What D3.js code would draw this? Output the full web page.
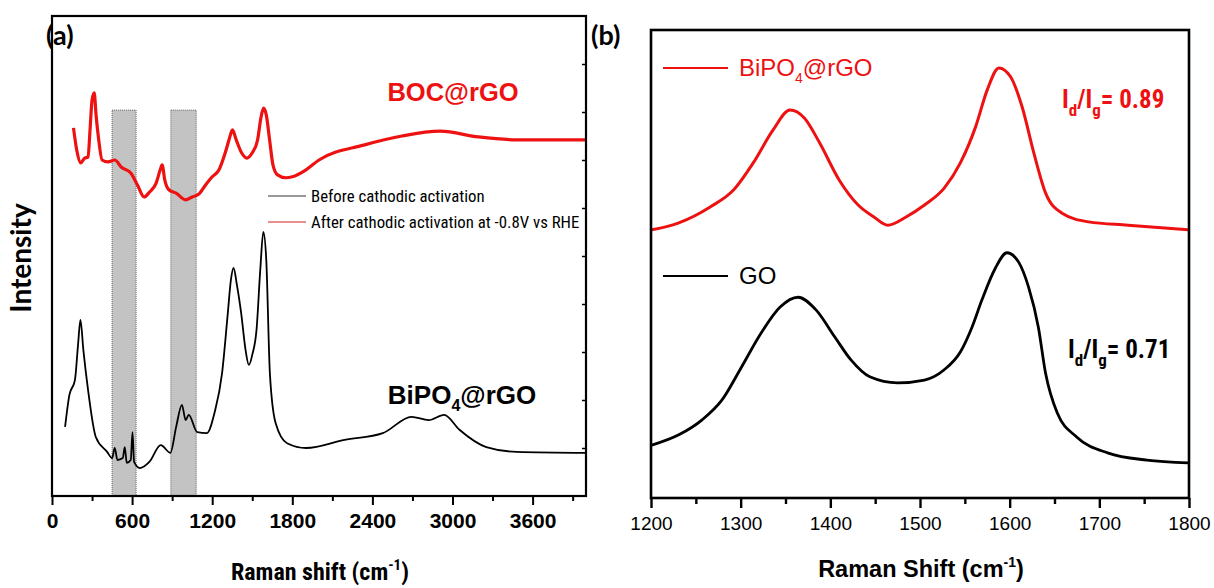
<!DOCTYPE html>
<html lang="en">
<head>
  <meta charset="UTF-8">
  <title>Raman spectra</title>
  <script src="https://d3js.org/d3.v7.min.js"></script>
  <style>
    body { margin: 0; background: #fff; }
    .narrow { font-family: "Liberation Sans Narrow", "Arial Narrow", "Roboto Condensed", "Liberation Sans", Arial, sans-serif; }
    .arial { font-family: "Liberation Sans", Arial, sans-serif; }
    .calib { font-family: "Lato", "Open Sans", "DejaVu Sans", sans-serif; }
  </style>
</head>
<body>
  <svg width="1214" height="588"></svg>
  <script>
    // ---- panel (a) data: Raman shift (cm-1) vs intensity (a.u.)
    const bocShift = [161, 185, 215, 245, 270, 285, 300, 316, 330, 350, 375, 420, 470, 520, 590, 640, 690, 730,
      780, 810, 825, 845, 875, 930, 1000, 1050, 1100, 1150, 1200, 1250, 1300, 1330, 1352, 1380, 1420, 1460,
      1500, 1540, 1565, 1585, 1605, 1630, 1655, 1690, 1750, 1800, 1900, 2000, 2335, 2621, 2908, 3195, 3482, 3998];
    const bocInt = [76.7, 72.1, 69.4, 70.4, 70.6, 76.3, 82.5, 84.0, 79.4, 74.2, 70.0, 69.6, 70.0, 68.5, 67.3, 64.8, 62.3, 63.3,
      65.2, 67.9, 69.0, 65.8, 63.8, 63.1, 61.7, 62.3, 62.9, 64.8, 66.5, 67.9, 71.7, 74.6, 76.3, 74.2, 71.5, 70.4,
      71.5, 74.2, 78.8, 80.8, 79.4, 74.2, 69.0, 66.9, 66.3, 66.5, 67.9, 70.0, 73.1, 75.0, 76.0, 74.8, 74.2, 74.2];

    const bipoShift = [98, 130, 172, 195, 213, 235, 270, 328, 413, 450, 470, 490, 530, 545, 560, 590, 603, 615, 658,
      729, 815, 887, 930, 973, 1001, 1024, 1088, 1160, 1217, 1274, 1317, 1340, 1360, 1385, 1417, 1450, 1475,
      1500, 1532, 1560, 1583, 1605, 1632, 1675, 1761, 1904, 2192, 2478, 2693, 2822, 2937, 3052, 3253, 3482, 3998];
    const bipoInt = [14.4, 21.0, 24.2, 31.5, 36.7, 30.4, 22.1, 12.3, 9.2, 7.9, 10.0, 7.5, 7.9, 10.2, 6.9, 7.5, 13.3, 7.1, 5.8,
      7.1, 10.6, 9.0, 14.4, 19.0, 15.8, 16.9, 13.3, 13.1, 17.3, 25.6, 38.1, 45.0, 47.5, 44.0, 38.1, 30.4, 27.3,
      29.4, 34.6, 47.1, 55.0, 49.2, 25.6, 15.2, 11.0, 10.0, 11.7, 13.1, 16.5, 15.8, 16.9, 13.8, 10.2, 9.2, 9.0];

    const bandRanges = [[450, 630], [890, 1080]];
    const bandTop = 80.4;
    const ticksA = [0, 600, 1200, 1800, 2400, 3000, 3600];
    const minorA = [300, 900, 1500, 2100, 2700, 3300, 3900];

    // ---- panel (b) data
    const rgoShift = [1201, 1231, 1266, 1292, 1314, 1336, 1355, 1371, 1388, 1410, 1431, 1449, 1464, 1484, 1505,
      1527, 1545, 1562, 1575, 1588, 1601, 1614, 1627, 1640, 1658, 1688, 1732, 1799];
    const rgoInt = [57.3, 58.8, 62.2, 65.8, 71.6, 78.6, 82.9, 81.2, 75.9, 67.9, 62.6, 60.0, 58.3, 60.0, 62.6,
      66.2, 71.6, 79.3, 87.2, 91.9, 90.0, 83.5, 73.7, 65.2, 60.9, 59.0, 58.3, 57.3];

    const goShift = [1201, 1231, 1257, 1279, 1301, 1323, 1344, 1364, 1384, 1405, 1423, 1444, 1475, 1505, 1527,
      1545, 1558, 1569, 1584, 1597, 1610, 1621, 1632, 1640, 1653, 1675, 1710, 1753, 1799];
    const goInt = [11.3, 13.5, 16.7, 20.9, 28.0, 35.3, 40.8, 42.9, 40.2, 34.4, 29.5, 25.9, 24.6, 25.2, 27.4,
      31.2, 36.5, 42.3, 49.1, 52.4, 50.4, 45.1, 36.5, 26.7, 18.2, 13.0, 9.6, 8.1, 7.5];

    const ticksB = [1200, 1300, 1400, 1500, 1600, 1700, 1800];
    const minorB = [1250, 1350, 1450, 1550, 1650, 1750];

    const RED = "#ee1111";
    const svg = d3.select("svg");
    svg.append("rect").attr("width", 1214).attr("height", 588).attr("fill", "#fff");

    const zip = (xs, ys) => xs.map((x, i) => [x, ys[i]]);

    // ================= panel (a)
    const ax = d3.scaleLinear().domain([0, 4000]).range([52, 586]);
    const ay = d3.scaleLinear().domain([0, 100]).range([496, 16]);
    const ga = svg.append("g");

    // shaded bands
    ga.selectAll("rect.band").data(bandRanges).enter().append("rect")
      .attr("class", "band")
      .attr("x", d => ax(d[0])).attr("width", d => ax(d[1]) - ax(d[0]))
      .attr("y", ay(bandTop)).attr("height", ay(0) - ay(bandTop))
      .attr("fill", "#c3c3c3").attr("stroke", "#444").attr("stroke-width", 0.8)
      .attr("stroke-dasharray", "1,1");

    const lineA = d3.line().x(d => ax(d[0])).y(d => ay(d[1])).curve(d3.curveMonotoneX);
    ga.append("path").datum(zip(bocShift, bocInt)).attr("d", lineA)
      .attr("fill", "none").attr("stroke", RED).attr("stroke-width", 3.2);
    ga.append("path").datum(zip(bipoShift, bipoInt)).attr("d", lineA)
      .attr("fill", "none").attr("stroke", "#000").attr("stroke-width", 1.8);

    // frame
    ga.append("rect").attr("x", 52).attr("y", 16).attr("width", 534).attr("height", 480)
      .attr("fill", "none").attr("stroke", "#000").attr("stroke-width", 2.2);

    // bottom axis
    const xa = ga.append("g").attr("transform", "translate(0,496)")
      .call(d3.axisBottom(ax).tickValues(ticksA).tickSize(9).tickPadding(8).tickFormat(d3.format("d")));
    xa.select(".domain").remove();
    xa.selectAll("line").attr("stroke-width", 2);
    xa.selectAll("text").attr("class", "arial").attr("font-size", 21).attr("font-weight", "bold").attr("fill", "#000");
    const xam = ga.append("g").attr("transform", "translate(0,496)")
      .call(d3.axisBottom(ax).tickValues(minorA).tickSize(5).tickFormat(""));
    xam.select(".domain").remove();
    xam.selectAll("line").attr("stroke-width", 2);

    // small inward ticks on right edge
    const ra = ga.append("g").attr("transform", "translate(586,0)")
      .call(d3.axisLeft(ay).tickValues(d3.range(10, 100, 10)).tickSize(4).tickFormat(""));
    ra.select(".domain").remove();
    ra.selectAll("line").attr("stroke-width", 1.5);

    svg.append("text").attr("class", "calib").attr("x", 46).attr("y", 45)
      .attr("font-size", 27).attr("font-weight", "bold").text("(a)");

    svg.append("text").attr("class", "calib")
      .attr("transform", "translate(31,258) rotate(-90)").attr("text-anchor", "middle")
      .attr("font-size", 28).attr("font-weight", "bold").text("Intensity");

    const tA = svg.append("text").attr("class", "narrow").attr("x", 320).attr("y", 580)
      .attr("text-anchor", "middle").attr("font-size", 24).attr("font-weight", "bold");
    tA.append("tspan").text("Raman shift (cm");
    tA.append("tspan").attr("dy", -10).attr("font-size", 15).text("-1");
    tA.append("tspan").attr("dy", 10).text(")");

    svg.append("text").attr("class", "arial").attr("x", 453).attr("y", 101)
      .attr("text-anchor", "middle").attr("font-size", 25.5).attr("font-weight", "bold")
      .attr("fill", RED).text("BOC@rGO");

    const lb = svg.append("text").attr("class", "arial").attr("x", 462).attr("y", 404)
      .attr("text-anchor", "middle").attr("font-size", 26).attr("font-weight", "bold");
    lb.append("tspan").text("BiPO");
    lb.append("tspan").attr("dy", 7).attr("font-size", 16).text("4");
    lb.append("tspan").attr("dy", -7).text("@rGO");

    // legend (a)
    const legA = [["Before cathodic activation", "#333"], ["After cathodic activation at -0.8V vs RHE", "#d42020"]];
    legA.forEach((d, i) => {
      const y = 196 + i * 26;
      svg.append("line").attr("x1", 268).attr("x2", 306).attr("y1", y).attr("y2", y)
        .attr("stroke", d[1]).attr("stroke-width", 1.2);
      svg.append("text").attr("class", "narrow").attr("x", 311).attr("y", y + 6)
        .attr("font-size", 16.8).text(d[0]);
    });

    // ================= panel (b)
    const bx = d3.scaleLinear().domain([1200, 1800]).range([651, 1189]);
    const by = d3.scaleLinear().domain([0, 100]).range([498, 30]);
    const gb = svg.append("g");
    const lineB = d3.line().x(d => bx(d[0])).y(d => by(d[1])).curve(d3.curveMonotoneX);
    gb.append("path").datum(zip(rgoShift, rgoInt)).attr("d", lineB)
      .attr("fill", "none").attr("stroke", RED).attr("stroke-width", 3);
    gb.append("path").datum(zip(goShift, goInt)).attr("d", lineB)
      .attr("fill", "none").attr("stroke", "#000").attr("stroke-width", 2.8);

    gb.append("rect").attr("x", 651).attr("y", 30).attr("width", 538).attr("height", 468)
      .attr("fill", "none").attr("stroke", "#000").attr("stroke-width", 2.6);

    const xb = gb.append("g").attr("transform", "translate(0,498)")
      .call(d3.axisBottom(bx).tickValues(ticksB).tickSize(10).tickPadding(9).tickFormat(d3.format("d")));
    xb.select(".domain").remove();
    xb.selectAll("line").attr("stroke-width", 2.4);
    xb.selectAll("text").attr("class", "arial").attr("font-size", 19).attr("fill", "#000");
    const xbm = gb.append("g").attr("transform", "translate(0,498)")
      .call(d3.axisBottom(bx).tickValues(minorB).tickSize(6).tickFormat(""));
    xbm.select(".domain").remove();
    xbm.selectAll("line").attr("stroke-width", 2.4);

    svg.append("text").attr("class", "calib").attr("x", 591).attr("y", 45)
      .attr("font-size", 27).attr("font-weight", "bold").text("(b)");

    const tB = svg.append("text").attr("class", "arial").attr("x", 921).attr("y", 577)
      .attr("text-anchor", "middle").attr("font-size", 23.5).attr("font-weight", "bold");
    tB.append("tspan").text("Raman Shift (cm");
    tB.append("tspan").attr("dy", -10).attr("font-size", 14).text("-1");
    tB.append("tspan").attr("dy", 10).text(")");

    // legend (b)
    svg.append("line").attr("x1", 663).attr("x2", 728).attr("y1", 68).attr("y2", 68)
      .attr("stroke", RED).attr("stroke-width", 2);
    const lr = svg.append("text").attr("class", "arial").attr("x", 739).attr("y", 76)
      .attr("font-size", 24).attr("fill", RED);
    lr.append("tspan").text("BiPO");
    lr.append("tspan").attr("dy", 7).attr("font-size", 14).text("4");
    lr.append("tspan").attr("dy", -7).text("@rGO");

    svg.append("line").attr("x1", 663).attr("x2", 728).attr("y1", 276).attr("y2", 276)
      .attr("stroke", "#000").attr("stroke-width", 2);
    svg.append("text").attr("class", "arial").attr("x", 739).attr("y", 284)
      .attr("font-size", 24).text("GO");

    function ratio(x, y, val, color) {
      const t = svg.append("text").attr("class", "narrow").attr("x", x).attr("y", y)
        .attr("font-size", 25).attr("font-weight", "bold").attr("fill", color);
      t.append("tspan").text("I");
      t.append("tspan").attr("dy", 8).attr("font-size", 17).text("d");
      t.append("tspan").attr("dy", -8).text("/I");
      t.append("tspan").attr("dy", 8).attr("font-size", 17).text("g");
      t.append("tspan").attr("dy", -8).text("= " + val);
    }
    ratio(1062, 108, "0.89", RED);
    ratio(1068, 358, "0.71", "#000");
  </script>
</body>
</html>
